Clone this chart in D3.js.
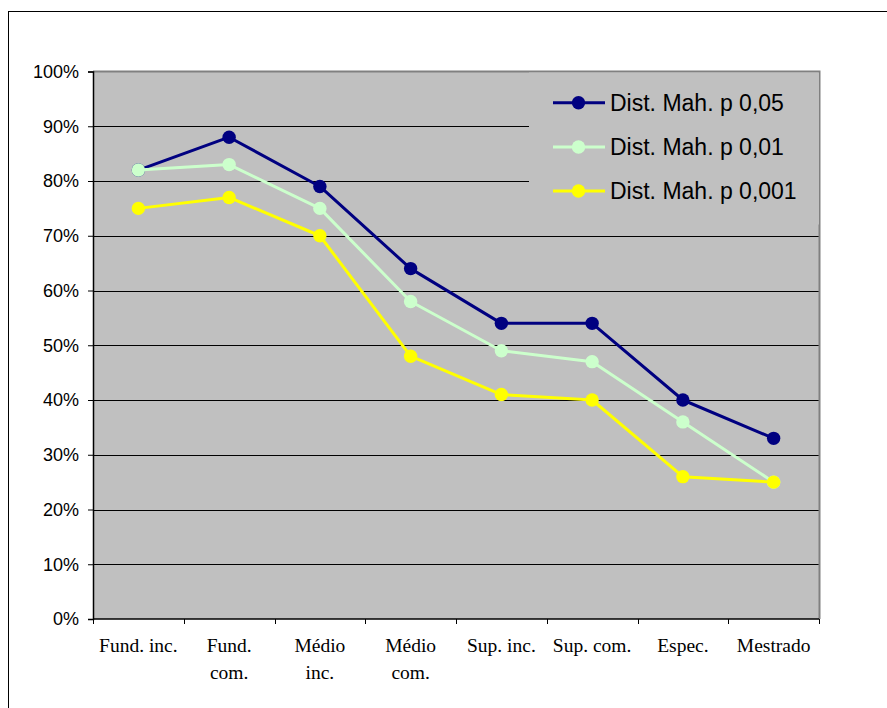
<!DOCTYPE html>
<html>
<head>
<meta charset="utf-8">
<script src="https://cdn.jsdelivr.net/npm/d3@7"></script>
<style>
  html, body { margin: 0; padding: 0; background: #fff; }
  svg { display: block; }
</style>
</head>
<body>
<svg id="chart" width="887" height="708"></svg>
<script>
// ---- data ----
const categories = ["Fund. inc.", "Fund. com.", "Médio inc.", "Médio com.", "Sup. inc.", "Sup. com.", "Espec.", "Mestrado"];
const categoryLabelLines = [["Fund. inc."], ["Fund.", "com."], ["Médio", "inc."], ["Médio", "com."], ["Sup. inc."], ["Sup. com."], ["Espec."], ["Mestrado"]];
const seriesNames = ["Dist. Mah. p 0,05", "Dist. Mah. p 0,01", "Dist. Mah. p 0,001"];
const seriesP005 = [0.82, 0.88, 0.79, 0.64, 0.54, 0.54, 0.40, 0.33];
const seriesP001 = [0.82, 0.83, 0.75, 0.58, 0.49, 0.47, 0.36, 0.25];
const seriesP0001 = [0.75, 0.77, 0.70, 0.48, 0.41, 0.40, 0.26, 0.25];
const yTicks = [0, 0.1, 0.2, 0.3, 0.4, 0.5, 0.6, 0.7, 0.8, 0.9, 1.0];

const seriesColors = ["#000080", "#CCFFCC", "#FFFF00"];
const allSeries = [seriesP005, seriesP001, seriesP0001];

// ---- layout ----
const svg = d3.select("#chart");
const plot = { left: 93, right: 819, top: 71.5, bottom: 619 };

// outer frame (extends beyond the visible window on right/bottom)
svg.append("rect")
  .attr("x", 8.5).attr("y", 11.5)
  .attr("width", 900).attr("height", 720)
  .attr("fill", "#fff").attr("stroke", "#000").attr("stroke-width", 1);

const x = d3.scaleBand().domain(categories).range([plot.left, plot.right]).padding(0);
const y = d3.scaleLinear().domain([0, 1]).range([plot.bottom, plot.top]);

// plot background
svg.append("rect")
  .attr("x", plot.left).attr("y", plot.top)
  .attr("width", plot.right - plot.left).attr("height", plot.bottom - plot.top)
  .attr("fill", "#C0C0C0");

// gridlines
svg.append("g").selectAll("line")
  .data(yTicks.filter(d => d > 0 && d < 1))
  .join("line")
  .attr("x1", plot.left).attr("x2", plot.right)
  .attr("y1", d => Math.round(y(d)) + 0.5).attr("y2", d => Math.round(y(d)) + 0.5)
  .attr("stroke", "#000").attr("stroke-width", 1);

// plot border top/right (grey)
svg.append("path")
  .attr("d", `M${plot.left},${plot.top}H${plot.right + 0.5}V${plot.bottom}`)
  .attr("fill", "none").attr("stroke", "#808080").attr("stroke-width", 2);

// legend background (covers gridlines)
const legend = svg.append("g");
legend.append("rect")
  .attr("x", 529).attr("y", plot.top + 1)
  .attr("width", plot.right - 529).attr("height", 152)
  .attr("fill", "#C0C0C0");

// y axis
const yAxis = d3.axisLeft(y).tickValues(yTicks).tickFormat(d3.format(".0%")).tickSize(5).tickPadding(9);
const yg = svg.append("g").attr("transform", `translate(${plot.left},0)`).call(yAxis);
yg.select(".domain").attr("stroke", "#000").attr("stroke-width", 1.5);
yg.selectAll(".tick line").attr("stroke", "#000");
yg.selectAll(".tick text")
  .attr("font-family", "'Liberation Sans', Arial, sans-serif")
  .attr("font-size", "18px").attr("fill", "#000");

// x axis: ticks at category boundaries
const boundaries = categories.map(c => x(c)).concat([plot.right]);
const xg = svg.append("g");
xg.append("line")
  .attr("x1", plot.left).attr("x2", plot.right)
  .attr("y1", plot.bottom).attr("y2", plot.bottom)
  .attr("stroke", "#000").attr("stroke-width", 1.5);
xg.selectAll("line.tk").data(boundaries).join("line")
  .attr("class", "tk")
  .attr("x1", d => Math.round(d) + 0.5).attr("x2", d => Math.round(d) + 0.5)
  .attr("y1", plot.bottom).attr("y2", plot.bottom + 5)
  .attr("stroke", "#000");

xg.selectAll("text.cat").data(categories).join("text")
  .attr("class", "cat")
  .attr("x", d => x(d) + x.bandwidth() / 2)
  .attr("y", 652)
  .attr("text-anchor", "middle")
  .attr("font-family", "'Liberation Serif', 'Times New Roman', serif")
  .attr("font-size", "19.5px")
  .attr("fill", "#000")
  .each(function(d, i) {
    const t = d3.select(this);
    categoryLabelLines[i].forEach((ln, j) => {
      t.append("tspan").attr("x", x(d) + x.bandwidth() / 2).attr("dy", j === 0 ? 0 : 27).text(ln);
    });
  });

// series lines and markers
const line = d3.line().x((d, i) => x(categories[i]) + x.bandwidth() / 2).y(d => y(d));
allSeries.forEach((vals, si) => {
  const g = svg.append("g");
  g.append("path")
    .attr("d", line(vals))
    .attr("fill", "none")
    .attr("stroke", seriesColors[si])
    .attr("stroke-width", 3)
    .attr("stroke-linejoin", "round");
  g.selectAll("circle").data(vals).join("circle")
    .attr("cx", (d, i) => x(categories[i]) + x.bandwidth() / 2)
    .attr("cy", d => y(d))
    .attr("r", 6.7)
    .attr("fill", seriesColors[si]);
});

// legend items
const legendY = [102.7, 147, 191];
seriesNames.forEach((name, i) => {
  const gy = legendY[i];
  legend.append("line")
    .attr("x1", 553).attr("x2", 605).attr("y1", gy).attr("y2", gy)
    .attr("stroke", seriesColors[i]).attr("stroke-width", 3);
  legend.append("circle")
    .attr("cx", 578.5).attr("cy", gy).attr("r", 6.7)
    .attr("fill", seriesColors[i]);
  legend.append("text")
    .attr("x", 610).attr("y", gy + 8)
    .attr("font-family", "'Liberation Sans', Arial, sans-serif")
    .attr("font-size", "23px")
    .attr("fill", "#000")
    .text(name);
});
</script>
</body>
</html>
